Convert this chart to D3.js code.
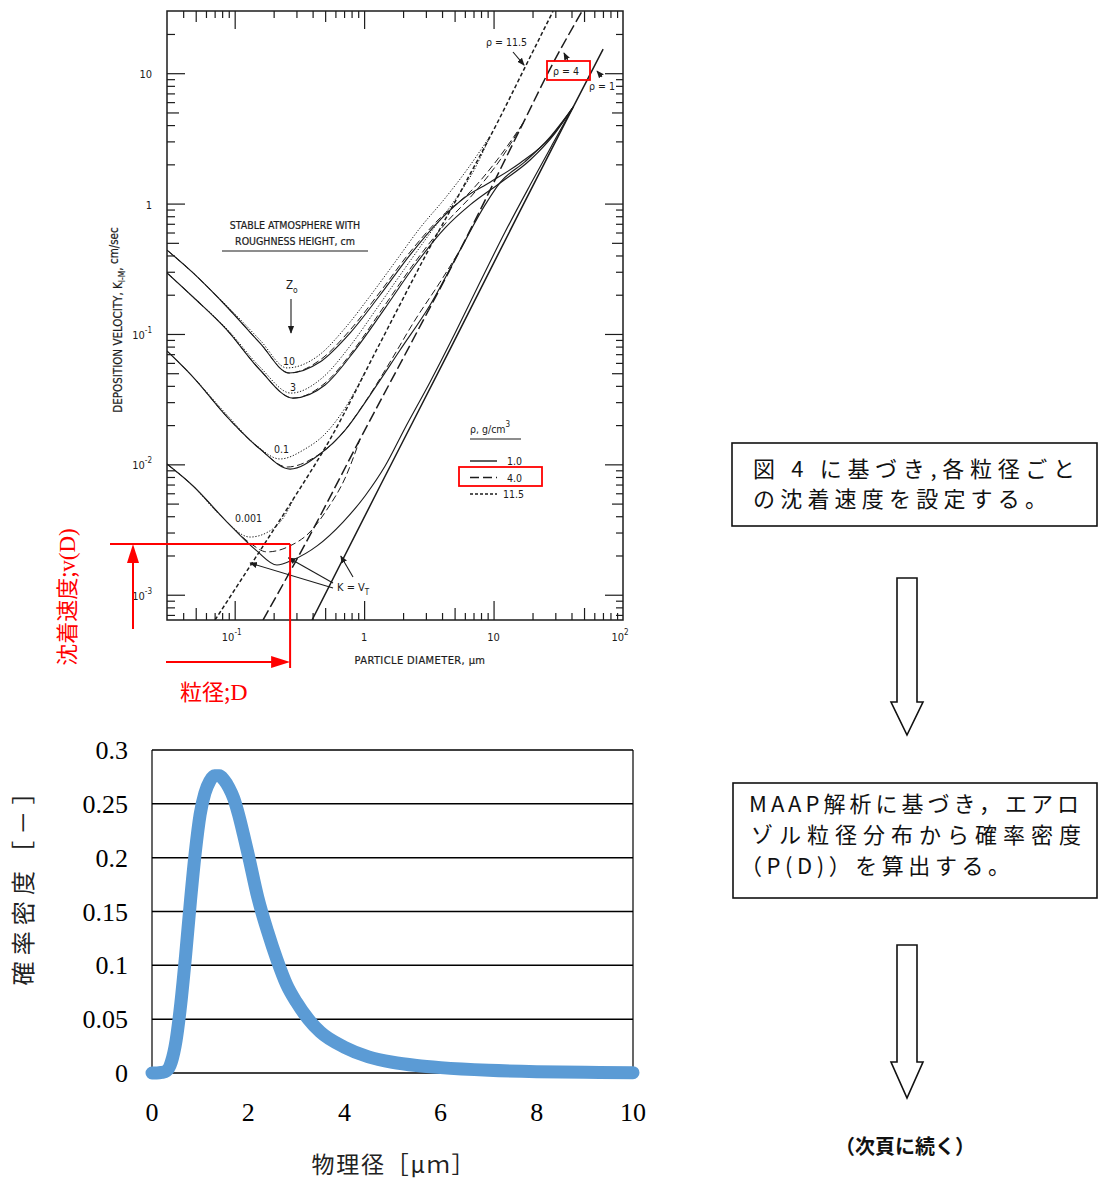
<!DOCTYPE html>
<html lang="ja">
<head>
<meta charset="UTF-8">
<title>沈着速度と粒径分布</title>
<script src="https://cdn.jsdelivr.net/npm/d3@7"></script>
<style>
  body { margin: 0; background: #fff; }
  svg { display: block; }
</style>
</head>
<body>
<svg width="1098" height="1180"></svg>
<script>
// ---------- data: deposition velocity (cm/s) vs particle diameter (um) ----------
const zeroHeights = ["10", "3", "0.1", "0.001"];
const densities = [1.0, 4.0, 11.5];

// settling velocity lines, K = V_T
const settleRho1 = [[0.396, 0.00064], [1.328, 0.00682], [4.617, 0.0766], [16.03, 0.879], [41.2, 5.50], [70.2, 15.3]];
const settleRho4 = [[0.1656, 0.00064], [0.382, 0.00287], [0.930, 0.0156], [2.265, 0.0822], [5.51, 0.440], [16.91, 4.14], [28.3, 11.54], [48.3, 29.9]];
const settleRho115 = [[0.0705, 0.00064], [0.1315, 0.00166], [0.268, 0.00496], [0.546, 0.0156], [1.328, 0.0851], [3.234, 0.465], [5.82, 1.34], [10.65, 4.14], [17.53, 11.14], [28.8, 29.9]];

// rho = 1.0
const depRho1Z10 = [[0.030, 0.440], [0.0477, 0.294], [0.0873, 0.161], [0.157, 0.0851], [0.263, 0.0502], [0.456, 0.0609], [0.778, 0.1016], [1.328, 0.199], [2.265, 0.404], [3.864, 0.75], [6.03, 1.12], [9.40, 1.46], [16.03, 2.05], [27.3, 3.18], [41.2, 5.50]];
const depRho1Z3 = [[0.030, 0.294], [0.0477, 0.192], [0.0873, 0.107], [0.157, 0.0529], [0.282, 0.0322], [0.499, 0.0406], [0.851, 0.0753], [1.452, 0.158], [2.476, 0.338], [4.224, 0.651], [6.59, 0.977], [11.23, 1.44], [19.16, 2.16], [29.9, 3.47], [41.2, 5.50]];
const depRho1Z01 = [[0.030, 0.0740], [0.0477, 0.0467], [0.0873, 0.0231], [0.157, 0.0131], [0.268, 0.0092], [0.456, 0.0120], [0.713, 0.0183], [1.112, 0.034], [1.896, 0.0753], [3.234, 0.167], [5.51, 0.440], [8.60, 0.977], [11.23, 1.45], [17.53, 2.10], [27.3, 3.24], [41.2, 5.50]];
const depRho1Z0001 = [[0.030, 0.01005], [0.0477, 0.00682], [0.0873, 0.00361], [0.146, 0.00220], [0.212, 0.00169], [0.282, 0.00185], [0.433, 0.00237], [0.687, 0.00361], [1.016, 0.00572], [1.452, 0.0097], [2.072, 0.0190], [3.234, 0.0428], [5.047, 0.1016], [7.87, 0.250], [12.27, 0.605], [19.16, 1.387], [28.3, 2.81], [41.2, 5.50]];

// rho = 4.0
const depRho4Z10 = [[0.030, 0.440], [0.0477, 0.294], [0.0873, 0.161], [0.157, 0.0851], [0.263, 0.0502], [0.456, 0.0631], [0.778, 0.107], [1.328, 0.210], [2.265, 0.425], [3.864, 0.776], [6.59, 1.23], [10.65, 2.16], [16.91, 4.14]];
const depRho4Z3 = [[0.030, 0.294], [0.0477, 0.192], [0.0873, 0.107], [0.157, 0.0529], [0.282, 0.0322], [0.499, 0.0420], [0.851, 0.078], [1.452, 0.167], [2.476, 0.356], [4.224, 0.699], [7.20, 1.23], [11.23, 2.16], [16.91, 4.14]];
const depRho4Z01 = [[0.030, 0.0740], [0.0477, 0.0467], [0.0873, 0.0231], [0.157, 0.0131], [0.254, 0.00954], [0.418, 0.01138], [0.652, 0.0165], [1.016, 0.030], [1.586, 0.0609], [2.476, 0.128], [3.864, 0.250], [5.51, 0.440]];
const depRho4Z0001 = [[0.030, 0.01005], [0.0477, 0.00682], [0.0873, 0.00361], [0.1315, 0.00249], [0.178, 0.00213], [0.268, 0.00237], [0.382, 0.00303], [0.526, 0.00463], [0.713, 0.00785], [0.930, 0.0156]];

// rho = 11.5
const depRho115Z10 = [[0.030, 0.440], [0.0477, 0.294], [0.0873, 0.164], [0.157, 0.0898], [0.254, 0.0549], [0.44, 0.0678], [0.713, 0.111], [1.112, 0.1955], [1.734, 0.356], [2.706, 0.651], [4.224, 1.10], [6.36, 1.87], [9.40, 3.30]];
const depRho115Z3 = [[0.030, 0.294], [0.0477, 0.192], [0.0873, 0.109], [0.157, 0.0557], [0.272, 0.0352], [0.473, 0.0459], [0.778, 0.0807], [1.259, 0.158], [2.072, 0.320], [3.234, 0.594], [5.047, 1.07], [7.20, 1.87], [9.40, 3.30]];
const depRho115Z01 = [[0.030, 0.0740], [0.0477, 0.0467], [0.0873, 0.0239], [0.146, 0.01406], [0.224, 0.0110], [0.349, 0.0131], [0.499, 0.0171], [0.713, 0.0271], [1.016, 0.0511]];
const depRho115Z0001 = [[0.030, 0.01005], [0.0477, 0.00682], [0.077, 0.00408], [0.1315, 0.00277], [0.181, 0.00303], [0.2366, 0.00387], [0.2924, 0.00572]];

const xDecades = [0.1, 1, 10, 100];
const xDecadeLabels = [["10", "-1"], ["1", ""], ["10", ""], ["10", "2"]];
const yDecades = [0.001, 0.01, 0.1, 1, 10];
const yDecadeLabels = [["10", "-3"], ["10", "-2"], ["10", "-1"], ["1", ""], ["10", ""]];

// reading example (red)
const readD = 0.268;
const readV = 0.00245;

// ---------- data: particle size distribution ----------
const sizeUm = [0, 0.1, 0.2, 0.3, 0.4, 0.5, 0.6, 0.7, 0.8, 0.9, 1.0, 1.1, 1.2, 1.3, 1.4, 1.5, 1.6, 1.7, 1.8, 1.9, 2.0, 2.2, 2.4, 2.6, 2.8, 3.0, 3.25, 3.5, 4.0, 4.5, 5.0, 5.5, 6.0, 7.0, 8.0, 9.0, 10.0];
const probDensity = [0, 0, 0.0005, 0.002, 0.01, 0.03, 0.065, 0.11, 0.16, 0.205, 0.24, 0.26, 0.271, 0.276, 0.276, 0.272, 0.265, 0.255, 0.24, 0.222, 0.203, 0.163, 0.132, 0.105, 0.082, 0.066, 0.05, 0.038, 0.024, 0.015, 0.01, 0.007, 0.005, 0.0025, 0.0012, 0.0006, 0.0003];
const pdYTicks = [0, 0.05, 0.1, 0.15, 0.2, 0.25, 0.3];
const pdXTicks = [0, 2, 4, 6, 8, 10];

const svg = d3.select("svg");
const ink = "#1c1c1c";
const red = "#ff0000";
const scanFont = "'DejaVu Sans Condensed', 'DejaVu Sans', sans-serif";
const jpFont = "'Noto Sans CJK JP', sans-serif";

const defs = svg.append("defs");
defs.append("marker").attr("id", "ah").attr("viewBox", "0 0 10 10")
  .attr("refX", 9).attr("refY", 5).attr("markerWidth", 7).attr("markerHeight", 7)
  .attr("orient", "auto")
  .append("path").attr("d", "M0,1 L10,5 L0,9 Z").attr("fill", ink);

// ================= top chart =================
const x = d3.scaleLog().domain([0.03, 100]).range([167, 623]);
const y = d3.scaleLog().domain([0.00064, 30]).range([620, 11]);

defs.append("clipPath").attr("id", "clipTop").append("rect")
  .attr("x", 167).attr("y", 11).attr("width", 456).attr("height", 609);

const topG = svg.append("g");

// ticks (inward on all four sides)
const yMinor = [], yFive = [], xMinor = [], xFive = [];
for (let k = -4; k <= 2; k++) {
  for (let m = 2; m <= 9; m++) {
    const v = +(m * Math.pow(10, k)).toPrecision(3);
    const list = m === 5 ? [yFive, xFive] : [yMinor, xMinor];
    if (v > 0.00064 && v < 30) list[0].push(v);
    if (v > 0.03 && v < 100) list[1].push(v);
  }
}

function tickSet(axis, scale, vals, len, tr) {
  const g = topG.append("g").attr("transform", tr)
    .call(axis(scale).tickValues(vals).tickSize(-len).tickFormat(""));
  g.select(".domain").remove();
  g.selectAll("line").attr("stroke", ink).attr("stroke-width", 1.2);
}
tickSet(d3.axisLeft, y, yDecades, 18, "translate(167,0)");
tickSet(d3.axisLeft, y, yFive, 12, "translate(167,0)");
tickSet(d3.axisLeft, y, yMinor, 8, "translate(167,0)");
tickSet(d3.axisRight, y, yDecades, 18, "translate(623,0)");
tickSet(d3.axisRight, y, yFive, 11, "translate(623,0)");
tickSet(d3.axisRight, y, yMinor, 7, "translate(623,0)");
tickSet(d3.axisBottom, x, xDecades.slice(0, 3), 19, "translate(0,620)");
tickSet(d3.axisBottom, x, xFive, 12, "translate(0,620)");
tickSet(d3.axisBottom, x, xMinor, 7, "translate(0,620)");
tickSet(d3.axisTop, x, xDecades.slice(0, 3), 18, "translate(0,11)");
tickSet(d3.axisTop, x, xFive, 11, "translate(0,11)");
tickSet(d3.axisTop, x, xMinor, 7, "translate(0,11)");

topG.append("rect").attr("x", 167).attr("y", 11).attr("width", 456).attr("height", 609)
  .attr("fill", "none").attr("stroke", ink).attr("stroke-width", 1.5);

// tick labels
yDecades.forEach((v, i) => {
  const t = topG.append("text").attr("x", 152).attr("y", y(v) + 5)
    .attr("text-anchor", "end").attr("font-family", scanFont).attr("font-size", 11).attr("fill", ink)
    .text(yDecadeLabels[i][0]);
  if (yDecadeLabels[i][1]) t.append("tspan").attr("dy", -6).attr("font-size", 8).text(yDecadeLabels[i][1]);
});
xDecades.forEach((v, i) => {
  const t = topG.append("text").attr("x", x(v) - (xDecadeLabels[i][1] ? 3 : 0)).attr("y", 641)
    .attr("text-anchor", "middle").attr("font-family", scanFont).attr("font-size", 11).attr("fill", ink)
    .text(xDecadeLabels[i][0]);
  if (xDecadeLabels[i][1]) t.append("tspan").attr("dy", -6).attr("font-size", 8).text(xDecadeLabels[i][1]);
});

topG.append("text").attr("x", 420).attr("y", 664).attr("text-anchor", "middle")
  .attr("font-family", scanFont).attr("font-size", 11).attr("letter-spacing", 0.4).attr("fill", ink)
  .attr("stroke", ink).attr("stroke-width", 0.2)
  .text("PARTICLE DIAMETER, \u03bcm");

const yTitle = topG.append("text").attr("transform", "translate(122,320) rotate(-90)")
  .attr("text-anchor", "middle").attr("font-family", scanFont).attr("font-size", 11.5).attr("fill", ink)
  .attr("stroke", ink).attr("stroke-width", 0.2)
  .text("DEPOSITION VELOCITY, K");
yTitle.append("tspan").attr("dy", 3).attr("font-size", 8.5).text("I-M");
yTitle.append("tspan").attr("dy", -3).text(",");
yTitle.append("tspan").attr("dy", -4).text(" cm/sec");

// curves
const line = d3.line().x(d => x(d[0])).y(d => y(d[1])).curve(d3.curveMonotoneX);
const depDash = { 1: null, 4: "7,3.5", 11.5: "1.3,1.7" };
const settleDash = { 1: null, 4: "11,4", 11.5: "4,2.5" };

const depCurves = [
  { pts: depRho1Z10, rho: 1 }, { pts: depRho1Z3, rho: 1 }, { pts: depRho1Z01, rho: 1 }, { pts: depRho1Z0001, rho: 1 },
  { pts: depRho4Z10, rho: 4 }, { pts: depRho4Z3, rho: 4 }, { pts: depRho4Z01, rho: 4 }, { pts: depRho4Z0001, rho: 4 },
  { pts: depRho115Z10, rho: 11.5 }, { pts: depRho115Z3, rho: 11.5 }, { pts: depRho115Z01, rho: 11.5 }, { pts: depRho115Z0001, rho: 11.5 }
];
const settleCurves = [
  { pts: settleRho1, rho: 1 }, { pts: settleRho4, rho: 4 }, { pts: settleRho115, rho: 11.5 }
];

const plot = topG.append("g").attr("clip-path", "url(#clipTop)");
plot.selectAll("path.dep").data(depCurves).join("path").attr("class", "dep")
  .attr("d", d => line(d.pts)).attr("fill", "none").attr("stroke", ink)
  .attr("stroke-width", d => d.rho === 1 ? 1.15 : 1.0)
  .attr("stroke-dasharray", d => depDash[d.rho]);
plot.selectAll("path.settle").data(settleCurves).join("path").attr("class", "settle")
  .attr("d", d => line(d.pts)).attr("fill", "none").attr("stroke", ink)
  .attr("stroke-width", 1.5)
  .attr("stroke-dasharray", d => settleDash[d.rho]);

// z0 labels at curve minima
const zLabelAt = [[0.263, 0.0502, -8], [0.282, 0.0322, -7], [0.23, 0.0105, -9], [0.128, 0.0031, -9]];
zeroHeights.forEach((z, i) => {
  topG.append("text").attr("x", x(zLabelAt[i][0])).attr("y", y(zLabelAt[i][1]) + zLabelAt[i][2])
    .attr("text-anchor", "middle").attr("font-family", scanFont).attr("font-size", 10.5).attr("fill", ink)
    .text(z);
});

// annotation text
const note = topG.append("g").attr("font-family", scanFont).attr("font-size", 10.5).attr("fill", ink);
note.append("text").attr("x", 295).attr("y", 229).attr("text-anchor", "middle")
  .attr("stroke", ink).attr("stroke-width", 0.2).text("STABLE ATMOSPHERE WITH");
note.append("text").attr("x", 295).attr("y", 245).attr("text-anchor", "middle")
  .attr("stroke", ink).attr("stroke-width", 0.2).text("ROUGHNESS HEIGHT, cm");
note.append("line").attr("x1", 222).attr("x2", 368).attr("y1", 251).attr("y2", 251).attr("stroke", ink).attr("stroke-width", 1.2);
const z0 = note.append("text").attr("x", 286).attr("y", 289).attr("font-size", 11.5).text("Z");
z0.append("tspan").attr("dy", 4).attr("font-size", 8.5).text("o");
note.append("line").attr("x1", 291).attr("x2", 291).attr("y1", 299).attr("y2", 333)
  .attr("stroke", ink).attr("stroke-width", 1.1).attr("marker-end", "url(#ah)");

// K = V_T label and arrows
const kv = note.append("text").attr("x", 337).attr("y", 591).attr("font-size", 11).text("K = V");
kv.append("tspan").attr("dy", 4).attr("font-size", 8).text("T");
[[0.1315, 0.00175, 333, 588], [0.26, 0.00192, 333, 583], [0.66, 0.00198, 353, 577]].forEach(a => {
  note.append("line").attr("x1", a[2]).attr("y1", a[3]).attr("x2", x(a[0])).attr("y2", y(a[1]))
    .attr("stroke", ink).attr("stroke-width", 1.1).attr("marker-end", "url(#ah)");
});

// density labels at top
const rl = note.append("g").attr("font-size", 10.5);
rl.append("text").attr("x", 486).attr("y", 46).text("\u03c1 = 11.5");
rl.append("line").attr("x1", 513).attr("y1", 52).attr("x2", x(settleRho115[8][0]) - 1).attr("y2", y(settleRho115[8][1]) - 2)
  .attr("stroke", ink).attr("stroke-width", 1.1).attr("marker-end", "url(#ah)");
rl.append("text").attr("x", 553).attr("y", 75).text("\u03c1 = 4");
rl.append("line").attr("x1", 568).attr("y1", 61).attr("x2", 564).attr("y2", 53)
  .attr("stroke", ink).attr("stroke-width", 1.1).attr("marker-end", "url(#ah)");
rl.append("text").attr("x", 589).attr("y", 90).text("\u03c1 = 1");
rl.append("line").attr("x1", 602).attr("y1", 77).attr("x2", 597).attr("y2", 71)
  .attr("stroke", ink).attr("stroke-width", 1.1).attr("marker-end", "url(#ah)");
topG.append("rect").attr("x", 547).attr("y", 61).attr("width", 43).attr("height", 19)
  .attr("fill", "none").attr("stroke", red).attr("stroke-width", 1.8);

// density legend
const leg = topG.append("g").attr("font-family", scanFont).attr("font-size", 10.5).attr("fill", ink);
const lt = leg.append("text").attr("x", 470).attr("y", 433).text("\u03c1, g/cm");
lt.append("tspan").attr("dy", -6).attr("font-size", 8).text("3");
leg.append("line").attr("x1", 470).attr("x2", 521).attr("y1", 439).attr("y2", 439).attr("stroke", ink).attr("stroke-width", 1.2);
const legDash = { 1: null, 4: "9,4", 11.5: "3,2" };
densities.forEach((r, i) => {
  const yy = 461 + i * 16.5;
  leg.append("line").attr("x1", 470).attr("x2", 497).attr("y1", yy).attr("y2", yy)
    .attr("stroke", ink).attr("stroke-width", 1.4).attr("stroke-dasharray", legDash[r]);
  leg.append("text").attr("x", r === 11.5 ? 503 : 507).attr("y", yy + 4).text(r.toFixed(1));
});
topG.append("rect").attr("x", 459).attr("y", 467).attr("width", 83).attr("height", 19)
  .attr("fill", "none").attr("stroke", red).attr("stroke-width", 1.8);

// red reading guides
const rx = x(readD), ry = y(readV);
const redG = svg.append("g").attr("stroke", red).attr("stroke-width", 2).attr("fill", "none");
redG.append("line").attr("x1", 110).attr("x2", rx).attr("y1", ry).attr("y2", ry);
redG.append("line").attr("x1", rx).attr("x2", rx).attr("y1", ry).attr("y2", 668);
redG.append("line").attr("x1", 133).attr("x2", 133).attr("y1", 629).attr("y2", ry + 16);
redG.append("line").attr("x1", 166).attr("x2", rx - 16).attr("y1", 662).attr("y2", 662);
svg.append("path").attr("fill", red)
  .attr("d", `M${133},${ry} L${127},${ry + 19} L${139},${ry + 19} Z`);
svg.append("path").attr("fill", red)
  .attr("d", `M${rx},662 L${rx - 19},656 L${rx - 19},668 Z`);

svg.append("text").attr("transform", "translate(75,597) rotate(-90)")
  .attr("text-anchor", "middle").attr("font-family", jpFont).attr("font-size", 22).attr("fill", red)
  .text("沈着速度;")
  .append("tspan").attr("font-family", "'Liberation Serif', serif").attr("font-size", 23).text("v(D)");
svg.append("text").attr("x", 180).attr("y", 700).attr("font-family", jpFont).attr("font-size", 22).attr("fill", red)
  .text("粒径;")
  .append("tspan").attr("font-family", "'Liberation Serif', serif").attr("font-size", 24).text("D");

// ================= bottom chart: probability density =================
const bx = d3.scaleLinear().domain([0, 10]).range([152, 633]);
const by = d3.scaleLinear().domain([0, 0.3]).range([1073, 750]);
const bottomG = svg.append("g");
const serif = "'Liberation Serif', 'DejaVu Serif', serif";

bottomG.selectAll("line.grid").data(pdYTicks).join("line").attr("class", "grid")
  .attr("x1", bx(0)).attr("x2", bx(10)).attr("y1", d => by(d)).attr("y2", d => by(d))
  .attr("stroke", "#000").attr("stroke-width", 1.5);
[0, 10].forEach(v => {
  bottomG.append("line").attr("x1", bx(v)).attr("x2", bx(v)).attr("y1", by(0.3)).attr("y2", by(0))
    .attr("stroke", "#000").attr("stroke-width", 1.2);
});
bottomG.selectAll("text.yl").data(pdYTicks).join("text").attr("class", "yl")
  .attr("x", 128).attr("y", d => by(d) + 9).attr("text-anchor", "end")
  .attr("font-family", serif).attr("font-size", 26).attr("fill", "#000").text(d => d);
bottomG.selectAll("text.xl").data(pdXTicks).join("text").attr("class", "xl")
  .attr("x", d => bx(d)).attr("y", 1121).attr("text-anchor", "middle")
  .attr("font-family", serif).attr("font-size", 26).attr("fill", "#000").text(d => d);

const pd = sizeUm.map((s, i) => [s, probDensity[i]]);
bottomG.append("path").datum(pd)
  .attr("d", d3.line().x(d => bx(d[0])).y(d => by(d[1])).curve(d3.curveMonotoneX))
  .attr("fill", "none").attr("stroke", "#5b9bd5").attr("stroke-width", 13)
  .attr("stroke-linecap", "round").attr("stroke-linejoin", "round");

bottomG.append("text").attr("x", 393).attr("y", 1173).attr("text-anchor", "middle")
  .attr("font-family", jpFont).attr("font-size", 23).attr("fill", "#222")
  .attr("textLength", 163).attr("lengthAdjust", "spacing").text("物理径［μｍ］");
bottomG.append("text").attr("transform", "translate(32,883) rotate(-90)").attr("text-anchor", "middle")
  .attr("font-family", jpFont).attr("font-size", 24).attr("fill", "#222")
  .attr("textLength", 205).attr("lengthAdjust", "spacing").text("確率密度［－］");

// ================= right-side flow =================
const flow = svg.append("g").attr("font-family", jpFont).attr("fill", "#111");
function box(x0, y0, w, h) {
  flow.append("rect").attr("x", x0).attr("y", y0).attr("width", w).attr("height", h)
    .attr("fill", "#fff").attr("stroke", "#111").attr("stroke-width", 1.6);
}
function textLine(str, x0, y0, len) {
  const t = flow.append("text").attr("x", x0).attr("y", y0).attr("font-size", 22).text(str);
  if (len) t.attr("textLength", len).attr("lengthAdjust", "spacing");
}
function hollowArrow(cx, y0, yHead, yTip) {
  flow.append("path")
    .attr("d", `M${cx - 10},${y0} L${cx + 10},${y0} L${cx + 10},${yHead} L${cx + 16},${yHead} L${cx},${yTip} L${cx - 16},${yHead} L${cx - 10},${yHead} Z`)
    .attr("fill", "#fff").attr("stroke", "#111").attr("stroke-width", 1.6);
}

box(732, 443, 365, 83);
textLine("図 4 に基づき,各粒径ごと", 753, 477, 322);
textLine("の沈着速度を設定する。", 753, 507, 294);

hollowArrow(907, 578, 702, 735);

box(733, 783, 364, 115);
textLine("MAAP解析に基づき，エアロ", 749, 812, 330);
textLine("ゾル粒径分布から確率密度", 751, 843, 330);
textLine("（P(D)）を算出する。", 740, 874, 270);

hollowArrow(907, 945, 1062, 1098);

flow.append("text").attr("x", 905).attr("y", 1154).attr("text-anchor", "middle")
  .attr("font-size", 20).attr("font-weight", "bold").text("（次頁に続く）");
</script>
</body>
</html>
